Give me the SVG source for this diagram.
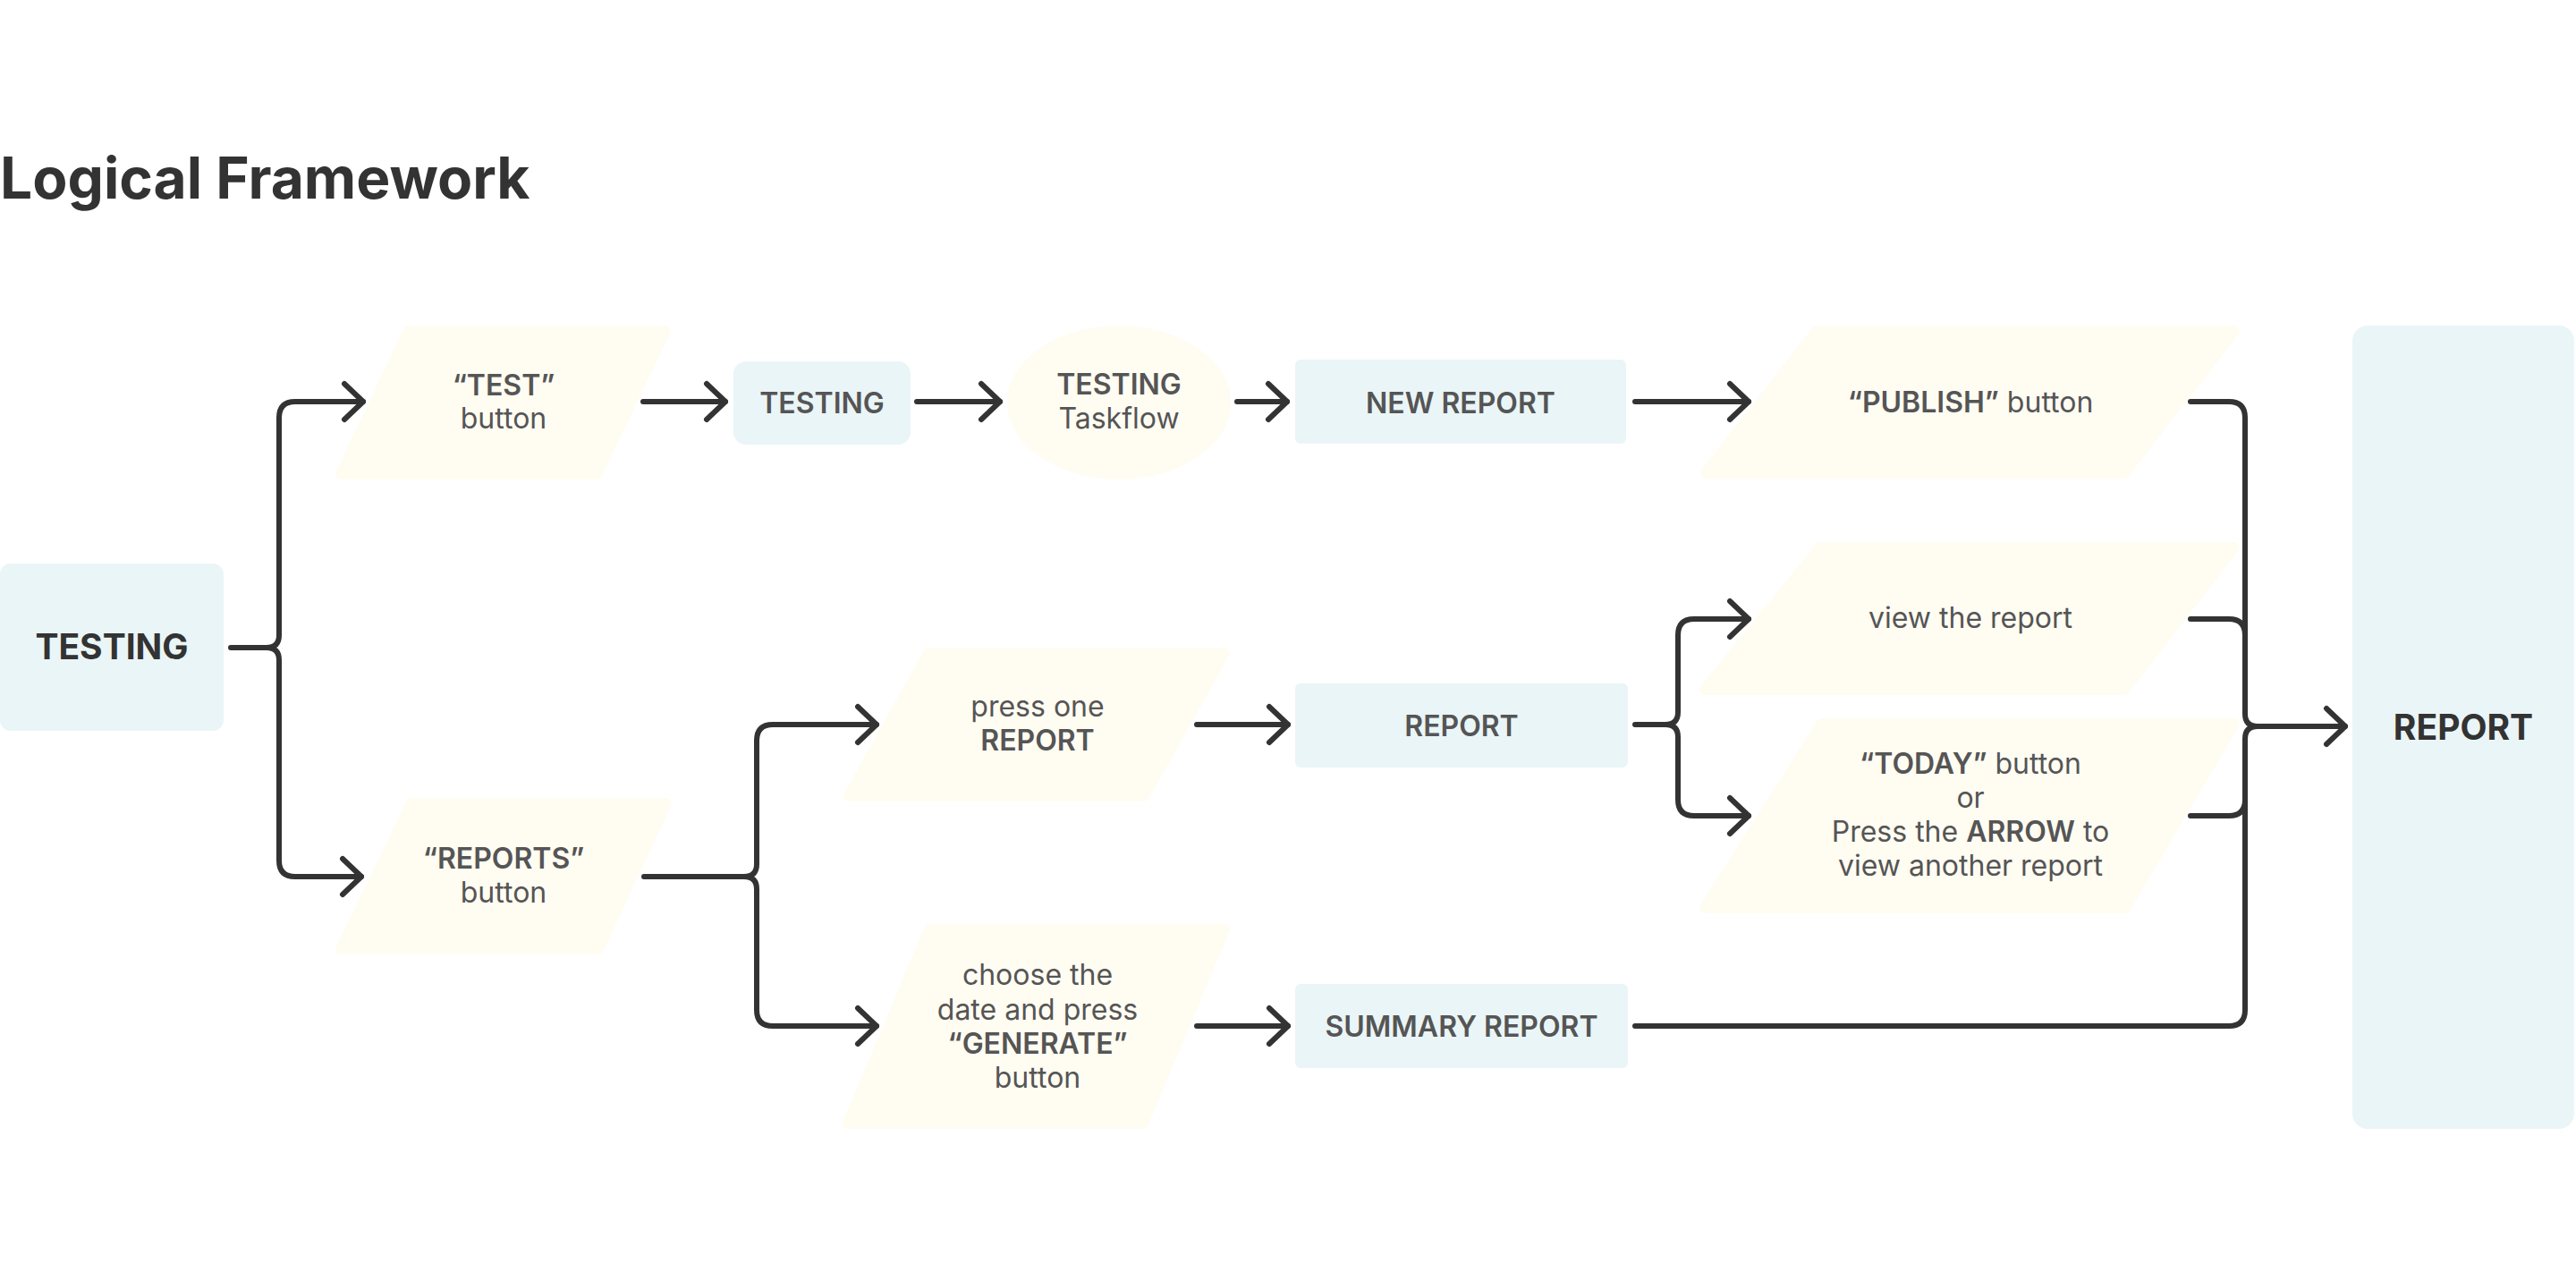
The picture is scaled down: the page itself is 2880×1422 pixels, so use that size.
<svg xmlns="http://www.w3.org/2000/svg" width="2880" height="1422" viewBox="0 0 2880 1422">
<defs>
<style>
.bg{fill:#ffffff}
.box{fill:#EAF5F7}
.para{fill:#FFFCF2;stroke:#FFFCF2;stroke-width:12;stroke-linejoin:round}
.oval{fill:#FFFCF2}
.lbl{font-family:Inter,"Liberation Sans",sans-serif;font-size:32px;fill:#555555;text-anchor:middle}
.b{font-weight:600}
.big{font-family:Inter,"Liberation Sans",sans-serif;font-size:39px;font-weight:700;fill:#333333;text-anchor:middle}
.title{font-family:Inter,"Liberation Sans",sans-serif;font-size:64px;font-weight:700;fill:#333333}
.conn{fill:none;stroke:#333333;stroke-width:6;stroke-linecap:round;stroke-linejoin:round}
</style>
<marker id="arrow" viewBox="-28 -26 32 52" refX="0" refY="0" markerWidth="32" markerHeight="52" markerUnits="userSpaceOnUse" orient="auto">
<path d="M-21,-20 L0,0 L-21,20" fill="none" stroke="#333333" stroke-width="6" stroke-linecap="round" stroke-linejoin="round"/>
</marker>
</defs>
<rect class="bg" x="0" y="0" width="2880" height="1422"/>
<text class="title" x="0" y="222">Logical Framework</text>

<g id="n-testing-start">
<rect class="box" x="0" y="630" width="250" height="187" rx="12"/>
<text class="big" x="125" y="737">TESTING</text>
</g>
<g id="n-test-button">
<polygon class="para" points="457,370 744,370 667,530 381,530"/>
<text class="lbl" x="563" y="442"><tspan class="b">“TEST”</tspan></text>
<text class="lbl" x="563" y="479">button</text>
</g>
<g id="n-testing-screen">
<rect class="box" x="820" y="404" width="198" height="93" rx="14"/>
<text class="lbl b" x="919" y="462">TESTING</text>
</g>
<g id="n-testing-taskflow">
<ellipse class="oval" cx="1251" cy="450" rx="125" ry="86"/>
<text class="lbl b" x="1251" y="441">TESTING</text>
<text class="lbl" x="1251" y="479">Taskflow</text>
</g>
<g id="n-new-report">
<rect class="box" x="1448" y="402" width="370" height="94" rx="6"/>
<text class="lbl b" x="1633" y="462">NEW REPORT</text>
</g>
<g id="n-publish">
<polygon class="para" points="2031,370 2498,370 2375,529 1907,529"/>
<text class="lbl" x="2203" y="461"><tspan class="b">“PUBLISH”</tspan> button</text>
</g>
<g id="n-reports-button">
<polygon class="para" points="460,898 745,898 669,1061 381,1061"/>
<text class="lbl" x="563" y="971"><tspan class="b">“REPORTS”</tspan></text>
<text class="lbl" x="563" y="1009">button</text>
</g>
<g id="n-press-one">
<polygon class="para" points="1038,730 1369,730 1279,890 949,890"/>
<text class="lbl" x="1160" y="801">press one</text>
<text class="lbl b" x="1160" y="839">REPORT</text>
</g>
<g id="n-report">
<rect class="box" x="1448" y="764" width="372" height="94" rx="6"/>
<text class="lbl b" x="1634" y="823">REPORT</text>
</g>
<g id="n-choose-date">
<polygon class="para" points="1039,1039 1369,1039 1278,1256 948,1256"/>
<text class="lbl" x="1160" y="1101">choose the</text>
<text class="lbl" x="1160" y="1140">date and press</text>
<text class="lbl b" x="1160" y="1178">“GENERATE”</text>
<text class="lbl" x="1160" y="1216">button</text>
</g>
<g id="n-summary-report">
<rect class="box" x="1448" y="1100" width="372" height="94" rx="6"/>
<text class="lbl b" x="1634" y="1159">SUMMARY REPORT</text>
</g>
<g id="n-view-report">
<polygon class="para" points="2035,612 2498,612 2375,771 1906,771"/>
<text class="lbl" x="2203" y="702">view the report</text>
</g>
<g id="n-today">
<polygon class="para" points="2037,809 2498,809 2376,1015 1906,1015"/>
<text class="lbl" x="2203" y="865"><tspan class="b">“TODAY”</tspan> button</text>
<text class="lbl" x="2203" y="903">or</text>
<text class="lbl" x="2203" y="941">Press the <tspan class="b">ARROW</tspan> to</text>
<text class="lbl" x="2203" y="979">view another report</text>
</g>
<g id="n-report-final">
<rect class="box" x="2630" y="364" width="248" height="898" rx="17"/>
<text class="big" x="2754" y="827">REPORT</text>
</g>

<g id="connectors">
<path class="conn" marker-end="url(#arrow)" d="M258,724 H298 Q312,724 312,710 V467 Q312,449 330,449 H406"/>
<path class="conn" marker-end="url(#arrow)" d="M298,724 Q312,724 312,738 V962 Q312,980 330,980 H404"/>
<path class="conn" marker-end="url(#arrow)" d="M719,449 H811"/>
<path class="conn" marker-end="url(#arrow)" d="M1025,449 H1118"/>
<path class="conn" marker-end="url(#arrow)" d="M1383,449 H1439"/>
<path class="conn" marker-end="url(#arrow)" d="M1828,449 H1955"/>
<path class="conn" marker-end="url(#arrow)" d="M720,980 H832 Q846,980 846,966 V828 Q846,810 864,810 H980"/>
<path class="conn" marker-end="url(#arrow)" d="M832,980 Q846,980 846,994 V1129 Q846,1147 864,1147 H980"/>
<path class="conn" marker-end="url(#arrow)" d="M1338,810 H1440"/>
<path class="conn" marker-end="url(#arrow)" d="M1338,1147 H1440"/>
<path class="conn" marker-end="url(#arrow)" d="M1828,810 H1862 Q1876,810 1876,796 V710 Q1876,692 1894,692 H1955"/>
<path class="conn" marker-end="url(#arrow)" d="M1862,810 Q1876,810 1876,824 V894 Q1876,912 1894,912 H1955"/>
<path class="conn" marker-end="url(#arrow)" d="M2449,449 H2492 Q2510,449 2510,467 V798 Q2510,812 2524,812 H2622"/>
<path class="conn" d="M1828,1147 H2492 Q2510,1147 2510,1129 V826 Q2510,812 2524,812"/>
<path class="conn" d="M2449,692 H2492 Q2510,692 2510,710"/>
<path class="conn" d="M2449,912 H2492 Q2510,912 2510,894"/>
</g>
</svg>
